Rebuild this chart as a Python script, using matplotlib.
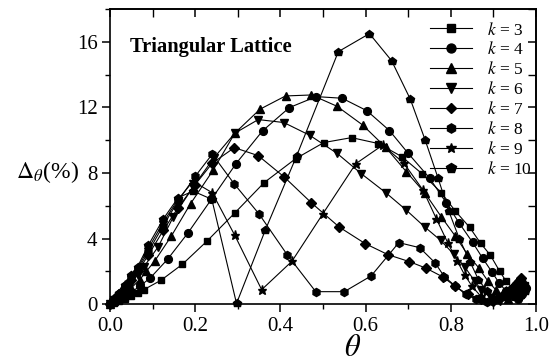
import matplotlib
matplotlib.use('Agg')
import matplotlib.pyplot as plt
from matplotlib.ticker import MultipleLocator

plt.rcParams['font.family'] = ['Liberation Serif', 'DejaVu Serif']
plt.rcParams['mathtext.fontset'] = 'stix'

# ---------------- data ----------------
theta_k3 = [0.0, 0.01, 0.02, 0.035, 0.05, 0.065, 0.08, 0.12, 0.17, 0.228, 0.293, 0.362, 0.436,
            0.502, 0.567, 0.63, 0.685, 0.732, 0.778, 0.81, 0.844, 0.87, 0.893, 0.915, 0.93,
            0.945, 0.955, 0.965, 0.975]
delta_k3 = [0.0, 0.1, 0.2, 0.35, 0.5, 0.7, 0.9, 1.47, 2.44, 3.86, 5.57, 7.42, 8.88,
            9.86, 10.16, 9.8, 9.0, 7.97, 6.8, 5.7, 4.7, 3.72, 2.99, 2.0, 1.4,
            1.0, 0.7, 0.9, 1.2]

theta_k4 = [0.0, 0.01, 0.02, 0.035, 0.05, 0.07, 0.095, 0.135, 0.183, 0.238, 0.296, 0.358, 0.421,
            0.484, 0.545, 0.603, 0.656, 0.70, 0.75, 0.789, 0.82, 0.851, 0.875, 0.896, 0.914,
            0.93, 0.945, 0.957, 0.967, 0.977]
delta_k4 = [0.0, 0.15, 0.3, 0.5, 0.75, 1.1, 1.62, 2.74, 4.35, 6.4, 8.58, 10.57, 11.99,
            12.66, 12.56, 11.8, 10.59, 9.2, 7.7, 6.2, 4.94, 3.78, 2.8, 1.99, 1.28,
            0.8, 0.5, 0.3, 0.6, 1.0]

theta_k5 = [0.0, 0.01, 0.02, 0.035, 0.05, 0.07, 0.085, 0.105, 0.144, 0.189, 0.242, 0.293, 0.352,
            0.412, 0.473, 0.533, 0.593, 0.647, 0.696, 0.739, 0.778, 0.811, 0.838, 0.866, 0.887,
            0.905, 0.92, 0.935, 0.948, 0.96, 0.97]
delta_k5 = [0.0, 0.2, 0.4, 0.7, 1.0, 1.5, 2.0, 2.64, 4.16, 6.13, 8.17, 10.43, 11.89,
            12.7, 12.76, 12.07, 10.93, 9.57, 8.07, 6.79, 5.32, 4.14, 3.09, 2.21, 1.42,
            0.9, 0.5, 0.3, 0.7, 1.1, 1.5]

theta_k6 = [0.0, 0.01, 0.02, 0.035, 0.05, 0.065, 0.08, 0.113, 0.148, 0.195, 0.243, 0.293, 0.348,
            0.408, 0.469, 0.533, 0.59, 0.648, 0.696, 0.739, 0.776, 0.807, 0.833, 0.856, 0.872,
            0.895, 0.915, 0.935, 0.95, 0.962, 0.972]
delta_k6 = [0.0, 0.25, 0.5, 0.9, 1.3, 1.8, 2.3, 3.5, 5.3, 7.15, 8.9, 10.43, 11.26,
            11.08, 10.3, 9.2, 7.96, 6.79, 5.73, 4.71, 3.9, 3.05, 2.27, 1.42, 0.85,
            0.4, 0.2, 0.6, 1.0, 1.3, 0.9]

theta_k7 = [0.0, 0.01, 0.02, 0.035, 0.05, 0.065, 0.09, 0.125, 0.16, 0.2, 0.24, 0.292, 0.348,
            0.409, 0.473, 0.538, 0.599, 0.653, 0.703, 0.742, 0.782, 0.81, 0.84, 0.87, 0.9,
            0.92, 0.94, 0.955, 0.965, 0.975]
delta_k7 = [0.0, 0.3, 0.6, 1.0, 1.5, 2.0, 3.0, 4.5, 5.9, 7.3, 8.6, 9.55, 9.06,
            7.76, 6.18, 4.71, 3.7, 3.02, 2.6, 2.2, 1.66, 1.1, 0.6, 0.3, 0.2,
            0.5, 0.9, 1.3, 1.6, 1.0]

theta_k8 = [0.0, 0.01, 0.02, 0.035, 0.05, 0.065, 0.09, 0.125, 0.16, 0.2, 0.24, 0.291, 0.35,
            0.416, 0.483, 0.55, 0.613, 0.678, 0.727, 0.763, 0.785, 0.81, 0.835, 0.86, 0.885,
            0.91, 0.93, 0.95, 0.962, 0.972]
delta_k8 = [0.0, 0.3, 0.6, 1.1, 1.6, 2.1, 3.2, 4.8, 6.3, 7.8, 9.15, 7.36, 5.5,
            3.02, 0.77, 0.77, 1.73, 3.76, 3.45, 2.53, 1.68, 1.13, 0.6, 0.3, 0.15,
            0.3, 0.7, 1.1, 0.5, 0.8]

theta_k9 = [0.0, 0.01, 0.02, 0.035, 0.05, 0.065, 0.09, 0.125, 0.16, 0.195, 0.24, 0.293, 0.356,
            0.427, 0.499, 0.577, 0.64, 0.69, 0.735, 0.766, 0.793, 0.815, 0.833, 0.85, 0.87,
            0.89, 0.91, 0.93, 0.95, 0.965]
delta_k9 = [0.0, 0.3, 0.65, 1.15, 1.7, 2.2, 3.4, 5.0, 6.4, 7.5, 6.8, 4.2, 0.89,
            2.62, 5.49, 8.57, 9.7, 8.6, 6.95, 5.22, 3.74, 2.64, 1.77, 1.1, 0.5,
            0.2, 0.4, 0.8, 1.2, 0.6]

theta_k10 = [0.0, 0.01, 0.02, 0.035, 0.05, 0.065, 0.09, 0.125, 0.16, 0.195, 0.239, 0.297, 0.365,
             0.438, 0.536, 0.609, 0.661, 0.705, 0.74, 0.77, 0.795, 0.82, 0.845, 0.865, 0.885,
             0.905, 0.925, 0.945, 0.96, 0.975]
delta_k10 = [0.0, 0.35, 0.7, 1.2, 1.8, 2.3, 3.6, 5.2, 6.5, 6.9, 6.4, 0.05, 4.55,
             9.04, 15.4, 16.5, 14.85, 12.5, 10.0, 7.7, 5.7, 4.0, 2.6, 1.5, 0.8,
             0.3, 0.5, 1.0, 1.4, 0.8]

series_labels = ['$k$ = 3', '$k$ = 4', '$k$ = 5', '$k$ = 6', '$k$ = 7', '$k$ = 8', '$k$ = 9', '$k$ = 10']
x_ticks = [0.0, 0.2, 0.4, 0.6, 0.8, 1.0]
x_ticklabels = ['0.0', '0.2', '0.4', '0.6', '0.8', '1.0']
y_ticks = [0, 4, 8, 12, 16]
y_ticklabels = ['0', '4', '8', '12', '16']
annotation = 'Triangular Lattice'

# ---------------- figure ----------------
W, H = 556, 362
fig = plt.figure(figsize=(W / 100, H / 100), dpi=100)
ax = fig.add_axes([110 / W, (H - 304.3) / H, 426 / W, (304.3 - 9) / H])

thetas = [theta_k3, theta_k4, theta_k5, theta_k6, theta_k7, theta_k8, theta_k9, theta_k10]
deltas = [delta_k3, delta_k4, delta_k5, delta_k6, delta_k7, delta_k8, delta_k9, delta_k10]
markers = ['s', 'o', '^', 'v', 'D', 'h', '*', 'p']
msizes = [4.8, 5.6, 5.8, 5.8, 4.8, 5.8, 6.8, 6.2]

for th, de, mk, ms, lab in zip(thetas, deltas, markers, msizes, series_labels):
    ax.plot(th, de, color='black', lw=0.8, marker=mk, ms=ms, mfc='black', mec='black',
            label=lab, clip_on=False, zorder=3)

ax.set_xlim(0, 1.0)
ax.set_ylim(0, 18)
ax.set_xticks(x_ticks)
ax.set_xticklabels(x_ticklabels)
ax.set_yticks(y_ticks)
ax.set_yticklabels(y_ticklabels)
ax.xaxis.set_minor_locator(MultipleLocator(0.1))
ax.yaxis.set_minor_locator(MultipleLocator(2))
ax.tick_params(axis='both', which='major', direction='out', length=6, width=1.1,
               labelsize=15, top=False, right=False)
ax.tick_params(axis='both', which='minor', direction='out', length=3.5, width=1.0,
               top=False, right=False)
ax.tick_params(axis='x', pad=3)
ax.tick_params(axis='y', pad=3)
for sp in ax.spines.values():
    sp.set_linewidth(1.2)

secx = ax.secondary_xaxis('top')
secx.set_xticks(x_ticks)
secx.xaxis.set_minor_locator(MultipleLocator(0.1))
secx.tick_params(which='major', direction='in', length=6, width=1.1, labeltop=False)
secx.tick_params(which='minor', direction='in', length=6, width=1.0)
secx.spines['top'].set_linewidth(1.2)

secy = ax.secondary_yaxis('right')
secy.set_yticks(y_ticks)
secy.yaxis.set_minor_locator(MultipleLocator(2))
secy.tick_params(which='major', direction='in', length=6, width=1.1, labelright=False)
secy.tick_params(which='minor', direction='in', length=6, width=1.0)
secy.spines['right'].set_linewidth(1.2)

ax.text((130 - 110) / 426, 1 - (47 - 9) / 295.3, annotation, transform=ax.transAxes,
        fontsize=14.8, fontweight='bold', ha='left', va='center')

leg = ax.legend(loc='upper right', bbox_to_anchor=(1.012, 0.99), frameon=False, fontsize=12.5,
                handlelength=2.4, handletextpad=0.85, labelspacing=0.17, borderaxespad=0.25,
                borderpad=0.3, markerscale=1.15)

fig.text(47 / W, 1 - 172 / H, r'$\Delta_{\theta}$(%)', fontsize=17, ha='center', va='center')
fig.text(353 / W, 1 - 349 / H, r'$\theta$', fontsize=22, ha='center', va='center')

fig.savefig('out.png', dpi=100)
